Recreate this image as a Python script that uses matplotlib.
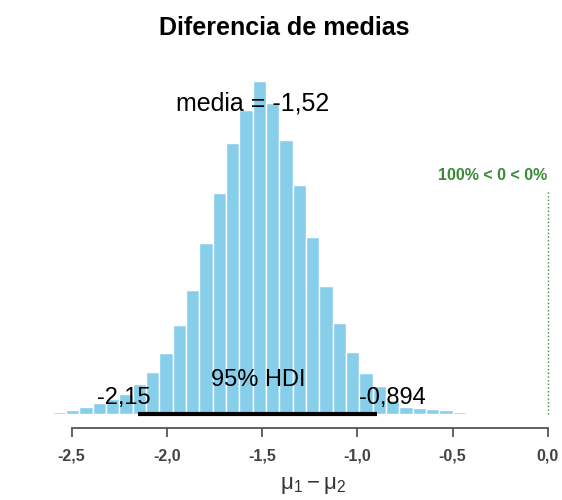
import numpy as np
import matplotlib
matplotlib.use("Agg")
import matplotlib.pyplot as plt
import matplotlib.ticker as mticker

plt.rcParams['font.family'] = ['Liberation Sans', 'DejaVu Sans']

# --------------------------
# Data
# --------------------------
bin_left = [-2.81, -2.74, -2.67, -2.60, -2.53, -2.46, -2.39, -2.32, -2.25, -2.18,
            -2.11, -2.04, -1.97, -1.90, -1.83, -1.76, -1.69, -1.62, -1.55, -1.48,
            -1.41, -1.34, -1.27, -1.20, -1.13, -1.06, -0.99, -0.92, -0.85, -0.78,
            -0.71, -0.64, -0.57, -0.50, -0.43, -0.36, -0.29]
bin_width = 0.07
counts = [1, 1.5, 1.5, 2.5, 4, 7, 11, 15, 20, 30,
          42, 61, 89, 124, 171, 221, 271, 304, 333, 311,
          274, 229, 177, 128, 91, 62, 41, 28, 14, 7,
          6, 5, 4, 2.5, 1.5, 1.5, 1]

mean_val = -1.52
hdi_low, hdi_high = -2.15, -0.894
comp_val = 0.0
xticks = [-2.5, -2.0, -1.5, -1.0, -0.5, 0.0]

# --------------------------
# Plot
# --------------------------
fig = plt.figure(figsize=(5.62, 5.0), dpi=100)
ax = fig.add_axes([0, 0.144, 1, 0.736])

ax.bar(bin_left, counts, width=bin_width, align='edge',
       color='#87CEEB', edgecolor='white', linewidth=1.0)

ax.set_xlim(-2.8766, 0.0751)
ax.set_ylim(-14, 354)

# HDI bar and labels
ax.plot([hdi_low, hdi_high], [0, 0], color='black', lw=3, solid_capstyle='butt')
ax.text((hdi_low + hdi_high) / 2, 34, "95% HDI", ha='center', va='center', fontsize=17)
ax.text(hdi_low - 0.075, 16, f"{hdi_low:.2f}".replace('.', ','), ha='center', va='center', fontsize=17)
ax.text(hdi_high + 0.08, 16, f"{hdi_high:.3f}".replace('.', ','), ha='center', va='center', fontsize=17)

# mean
ax.text(mean_val - 0.03, 310, f"media = {mean_val:.2f}".replace('.', ','),
        ha='center', va='center', fontsize=18)

# comparison value
ax.plot([comp_val, comp_val], [0, 224], color='#3a8a3a', lw=1.0, ls=':')
ax.text(comp_val, 239, "100% < 0 < 0%", ha='right', va='center',
        fontsize=11.5, color='#3a8a3a', fontweight='bold')

# axis styling
for s in ['left', 'right', 'top']:
    ax.spines[s].set_visible(False)
ax.spines['bottom'].set_bounds(-2.5, 0.0)
ax.spines['bottom'].set_color('#555555')
ax.spines['bottom'].set_linewidth(1.3)
ax.set_yticks([])
ax.set_xticks(xticks)
ax.xaxis.set_major_formatter(mticker.FuncFormatter(lambda v, p: f"{v:.1f}".replace('.', ',')))
ax.tick_params(axis='x', direction='out', length=6.5, width=1.3, color='#555555',
               pad=8, labelsize=11.5, labelcolor='#444444')
for lab in ax.get_xticklabels():
    lab.set_fontweight('bold')

fig.text(313 / 562, 1 - 486 / 500, r'$\mathregular{\mu_1 - \mu_2}$', ha='center', va='center',
         fontsize=16, color='#333333')
fig.text(284 / 562, 1 - 28 / 500, "Diferencia de medias", ha='center', va='center',
         fontsize=18, fontweight='bold')

fig.savefig("out.png", dpi=100)
